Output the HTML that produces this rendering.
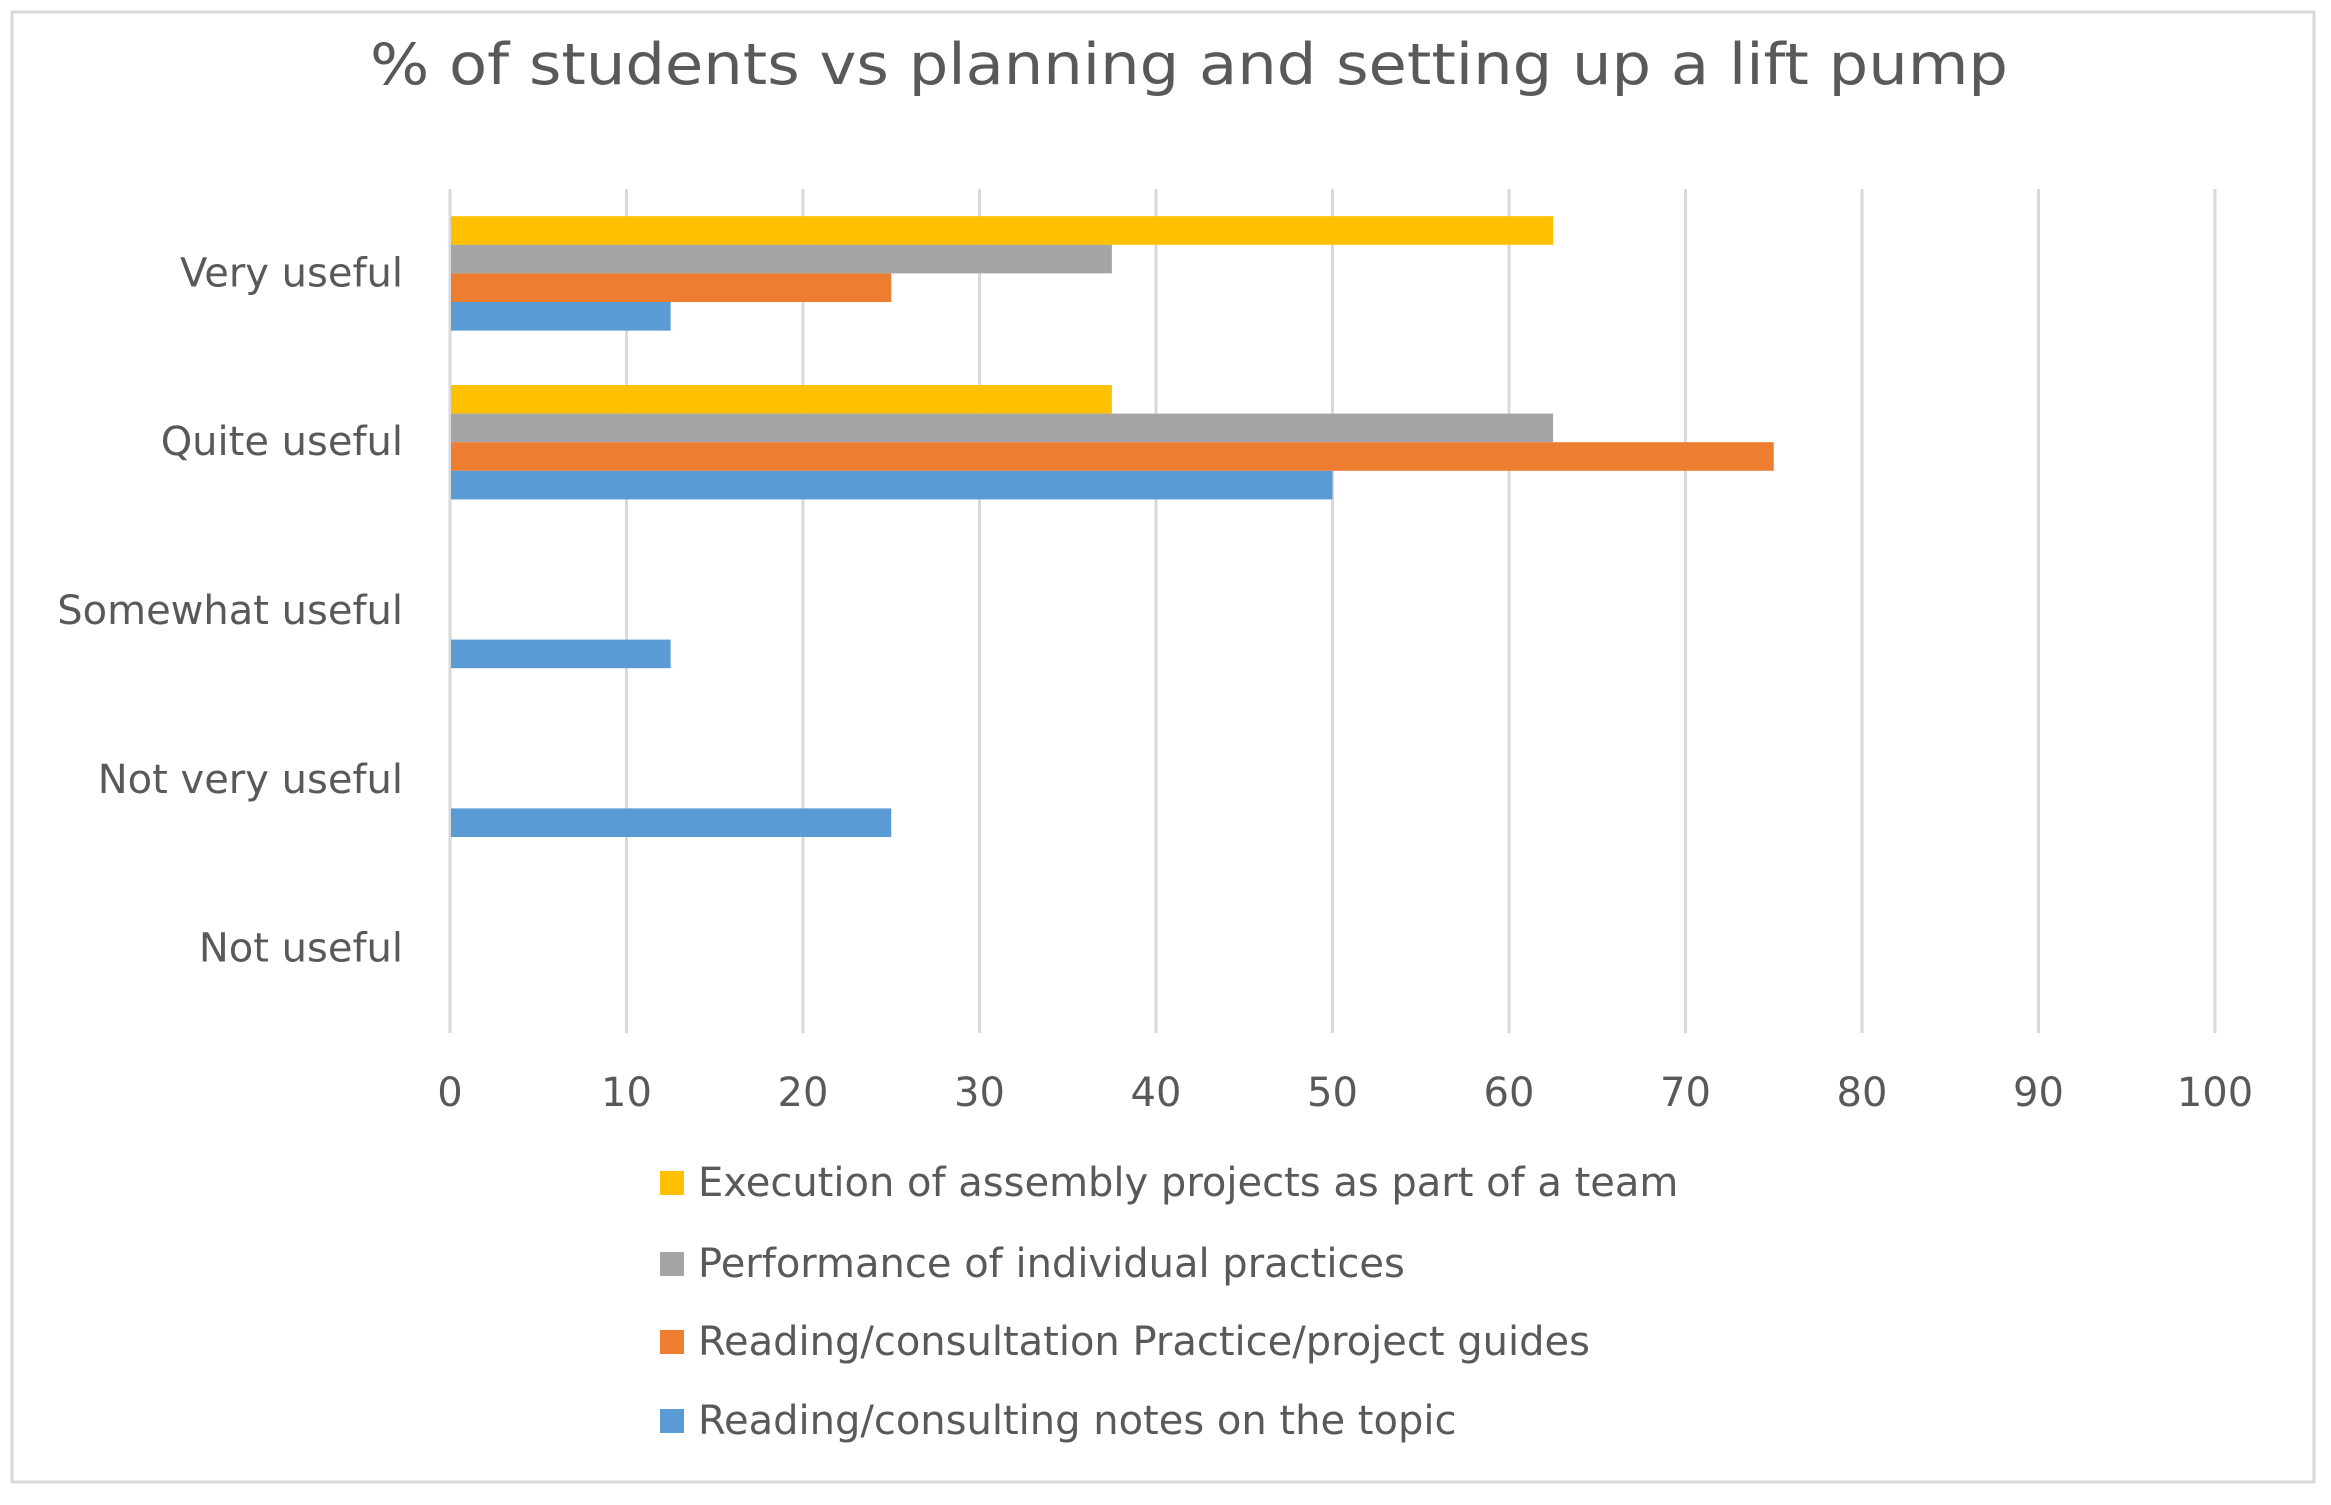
<!DOCTYPE html>
<html><head><meta charset="utf-8"><style>
html,body{margin:0;padding:0;background:#fff;}
svg{display:block;font-family:"DejaVu Sans","Liberation Sans",sans-serif;}
</style></head><body>
<svg id="chart" width="2331" height="1505" viewBox="0 0 2331 1505">
<rect x="12" y="12" width="2302" height="1470" fill="#fff" stroke="#d9d9d9" stroke-width="3"/>
<text x="1189" y="84" text-anchor="middle" font-size="57" fill="#595959" textLength="1638" lengthAdjust="spacingAndGlyphs">% of students vs planning and setting up a lift pump</text>
<g id="grid"></g><g id="bars"></g><g id="labels"></g><g id="legend"></g>
</svg>
<script>
const categories = ["Very useful","Quite useful","Somewhat useful","Not very useful","Not useful"];
const seriesNames = ["Execution of assembly projects as part of a team","Performance of individual practices","Reading/consultation Practice/project guides","Reading/consulting notes on the topic"];
const seriesColors = ["#FFC000","#A5A5A5","#ED7D31","#5B9BD5"];
const execution = [62.5,37.5,0,0,0];
const individual = [37.5,62.5,0,0,0];
const guides = [25,75,0,0,0];
const notes = [12.5,50,12.5,25,0];
const xTicks = [0,10,20,30,40,50,60,70,80,90,100];
const series = [execution, individual, guides, notes];
const NS="http://www.w3.org/2000/svg";
const X0=450, X1=2215, YT=189, YB=1033, XMAX=100;
const xs = v => X0 + (v/XMAX)*(X1-X0);
const band = (YB-YT)/categories.length;
const barH = 28.6;
function mk(tag, attrs, parent){const e=document.createElementNS(NS,tag);for(const k in attrs)e.setAttribute(k,attrs[k]);parent.appendChild(e);return e;}
const grid=document.getElementById('grid'), bars=document.getElementById('bars'), labels=document.getElementById('labels'), legend=document.getElementById('legend');
xTicks.forEach(t=>{
  const l=mk('line',{x1:xs(t),x2:xs(t),y1:YT,y2:YB,stroke:'#d9d9d9','stroke-width':3},grid);
  
  
  const tx=mk('text',{x:xs(t),y:1106,'text-anchor':'middle','font-size':40,fill:'#595959'},labels);
  tx.textContent=t;
  
  
});
categories.forEach((c,i)=>{
  const cy=YT+band*(i+0.5);
  const tx=mk('text',{x:403,y:cy+13,'text-anchor':'end','font-size':40,fill:'#595959'},labels);
  tx.textContent=c;
  
  
  const top=cy-2*barH;
  series.forEach((s,j)=>{
    if(!s[i]) return;
    const r=mk('rect',{x:xs(0)+1,y:top+j*barH,width:xs(s[i])-xs(0)-1,height:barH,fill:seriesColors[j]},bars);
    
    
  });
});
const legY=[1183,1264,1342,1421];
seriesNames.forEach((n,j)=>{
  const g=mk('g',{},legend);
  
  
  mk('rect',{x:660,y:legY[j]-12,width:24,height:24,fill:seriesColors[j]},g);
  const tx=mk('text',{x:698,y:legY[j]+13,'font-size':40,fill:'#595959'},g);
  tx.textContent=n;
});
</script>
</body></html>
